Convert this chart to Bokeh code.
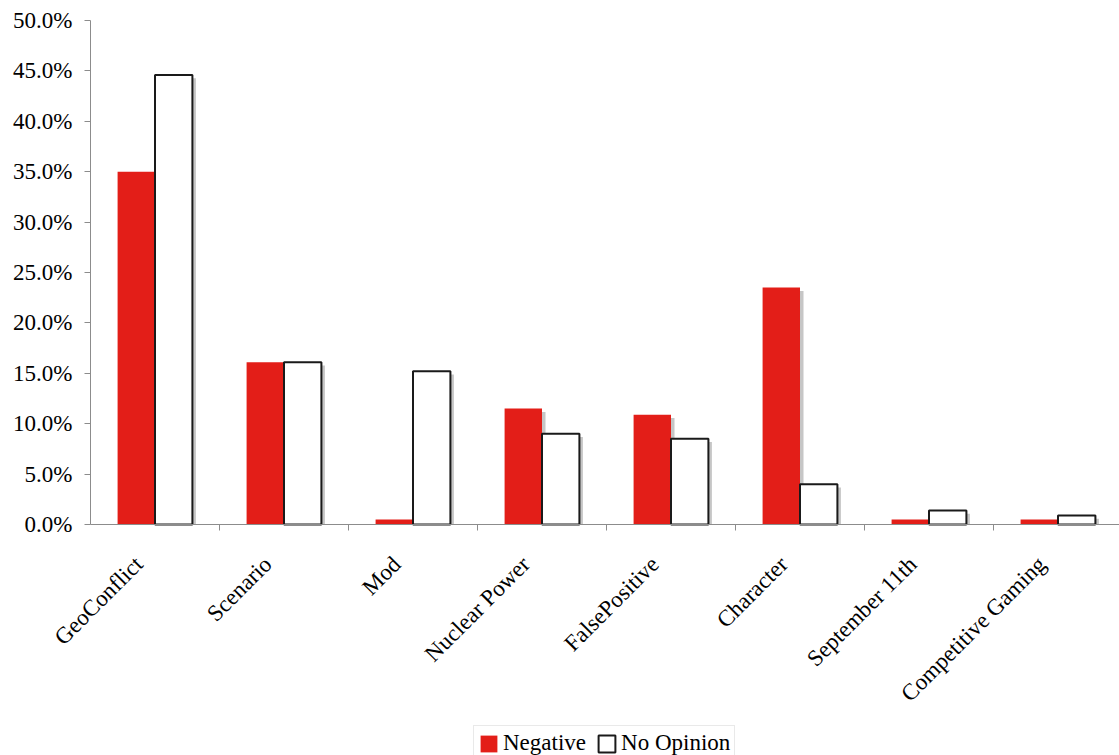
import math
import numpy as np
from bokeh.plotting import figure
from bokeh.models import (Range1d, FixedTicker, PrintfTickFormatter, CustomJSTickFormatter,
                          Legend, LegendItem)
from bokeh.embed import file_html
from bokeh.resources import INLINE

# Share of responses per topic (percent)
categories = ["GeoConflict", "Scenario", "Mod", "Nuclear Power", "FalsePositive",
              "Character", "September 11th", "Competitive Gaming"]
negative = [35.0, 16.1, 0.5, 11.5, 10.9, 23.5, 0.5, 0.5]
no_opinion = [44.6, 16.1, 15.2, 9.0, 8.5, 4.0, 1.4, 0.9]
y_ticks = [0, 5, 10, 15, 20, 25, 30, 35, 40, 45, 50]

FONT = "Liberation Serif"
RED = "#E31E18"
AXIS_GREY = "#8c8c8c"
SHADOW = "#c6c6c6"

W, H = 1119, 755
ORIGIN_X, ORIGIN_Y = 90, 524   # canvas position of the (0, 0%) corner
TOP_PX = 20                    # canvas row of the 50% tick
CAT_PX = 129.0                 # pixel width of one category slot
PX_PER_UNIT = (ORIGIN_Y - TOP_PX) / 50.0

n = len(categories)
centers = np.arange(n) + 0.5
bar_w = 0.29
offset = bar_w / 2

# the frame fills the whole canvas; both axes are pinned at 0 so the tick
# labels and the legend have room around the plotting area
x_start = -ORIGIN_X / CAT_PX
x_end = (W - ORIGIN_X) / CAT_PX
y_start = -(H - ORIGIN_Y) / PX_PER_UNIT
y_end = 50 + TOP_PX / PX_PER_UNIT
p = figure(width=W, height=H, output_backend="svg", toolbar_location=None,
           x_range=Range1d(x_start, x_end), y_range=Range1d(y_start, y_end),
           min_border=0)
p.outline_line_color = None
p.xgrid.visible = False
p.ygrid.visible = False
p.background_fill_color = "white"
p.border_fill_color = "white"

# drop shadows behind the bars (a few pixels right and down)
dx = 3.5 / CAT_PX
dy = 3.3 / PX_PER_UNIT
neg = np.array(negative)
noo = np.array(no_opinion)
p.vbar(x=centers - offset + dx, top=np.maximum(neg - dy, 0), bottom=0, width=bar_w,
       fill_color=SHADOW, line_color=None)
p.vbar(x=centers + offset + dx, top=np.maximum(noo - dy, 0), bottom=0, width=bar_w,
       fill_color=SHADOW, line_color=None)

r_neg = p.vbar(x=centers - offset, top=neg, bottom=0, width=bar_w,
               fill_color=RED, line_color=None)
r_no = p.vbar(x=centers + offset, top=noo, bottom=0, width=bar_w,
              fill_color="white", line_color="#1a1a1a", line_width=2)

# y axis
ya = p.yaxis[0]
ya.fixed_location = 0
ya.bounds = (0, 50)
ya.ticker = FixedTicker(ticks=y_ticks, minor_ticks=[])
ya.formatter = PrintfTickFormatter(format="%.1f%%")
ya.axis_line_color = AXIS_GREY
ya.major_tick_line_color = AXIS_GREY
ya.major_tick_out = 6
ya.major_tick_in = 0
ya.minor_tick_line_color = None
ya.major_label_text_font = FONT
ya.major_label_text_font_size = "23px"
ya.major_label_text_color = "black"
ya.major_label_standoff = 12

# x axis: labels under the category centres, tick marks between categories
label_pos = list(centers - 0.125)
xa = p.xaxis[0]
xa.fixed_location = 0
xa.bounds = (0, x_end)
xa.ticker = FixedTicker(ticks=label_pos, minor_ticks=list(range(1, n)))
xa.formatter = CustomJSTickFormatter(args=dict(names=categories),
                                     code="return names[Math.floor(tick)]")
xa.axis_line_color = AXIS_GREY
xa.major_tick_line_color = None
xa.minor_tick_line_color = AXIS_GREY
xa.minor_tick_out = 6
xa.minor_tick_in = 0
xa.major_label_orientation = math.pi / 4
xa.major_label_text_font = FONT
xa.major_label_text_font_size = "23px"
xa.major_label_text_color = "black"
xa.major_label_standoff = 30

legend = Legend(items=[LegendItem(label="Negative", renderers=[r_neg]),
                       LegendItem(label="No Opinion", renderers=[r_no])],
                orientation="horizontal", location=(473, -6),
                glyph_width=21, glyph_height=21, label_standoff=4, spacing=10,
                padding=4, margin=0,
                label_text_font=FONT, label_text_font_size="23px",
                label_text_color="black",
                border_line_color="#d4d4d4", border_line_width=1,
                background_fill_color="white", background_fill_alpha=1)
p.add_layout(legend, "center")

open("out.html", "w").write(file_html(p, INLINE))
